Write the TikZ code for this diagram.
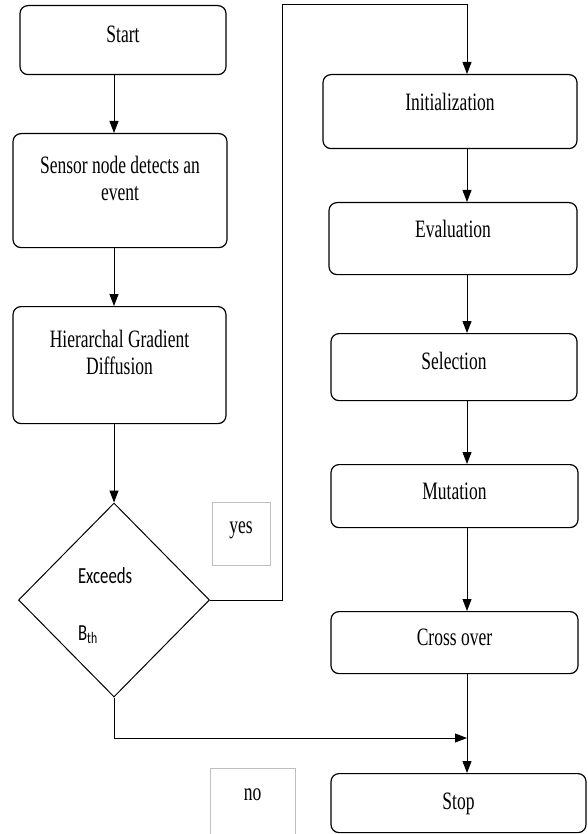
\documentclass[tikz,border=0pt]{standalone}
\usepackage{fontspec}
\setmainfont{Liberation Serif}[FakeStretch=0.7]
\newfontfamily\calfont{Carlito}[FakeStretch=0.73]
\usepackage{tikz}
\usetikzlibrary{arrows.meta, positioning, shapes.geometric}
\definecolor{tagline}{RGB}{190,190,190}

\begin{document}
\begin{tikzpicture}[x=1pt, y=-1pt,
    boxfont/.style={font=\fontsize{25}{27}\selectfont,
      execute at begin node={\spaceskip 4.4pt\relax}},
    proc/.style={rectangle, draw, line width=1.2pt, rounded corners=8pt, anchor=north,
      inner sep=0pt, align=center, boxfont},
    decide/.style={diamond, draw, line width=1pt, inner sep=0pt, minimum width=191pt,
      minimum height=194pt, text width=72pt, align=left, font=\calfont\fontsize{23}{28}\selectfont},
    tag/.style={rectangle, draw=tagline, line width=0.6pt, anchor=north, inner sep=0pt,
      align=center, boxfont},
    arr/.style={draw, line width=1pt, -{Triangle[length=12pt, width=9pt]}}]
  \useasboundingbox (0,0) rectangle (587,834);
  \node[proc, text width=206pt, text height=37pt, text depth=32pt] (start) at (123,5) {Start};
  \node[proc, text width=214pt, text height=40pt, text depth=74pt] (sensor) at (120,133)
    {Sensor node detects an\\event};
  \node[proc, text width=213pt, text height=41pt, text depth=76pt] (hgd) at (119.5,306)
    {Hierarchal Gradient\\Diffusion};
  \node[decide, text height=16pt, text depth=50pt] (exceeds) at (114,600)
    {Exceeds\\[29pt]B\textsubscript{th}};
  \node[proc, text width=254pt, text height=36pt, text depth=38pt] (init) at (450,74) {Initialization};
  \node[proc, text width=248pt, text height=35pt, text depth=37pt] (eval) at (453,202) {Evaluation};
  \node[proc, text width=246pt, text height=36pt, text depth=31pt] (select) at (454,333) {Selection};
  \node[proc, text width=247pt, text height=35pt, text depth=28pt] (mutate) at (454.5,464) {Mutation};
  \node[proc, text width=247pt, text height=34pt, text depth=28pt] (cross) at (454.5,611) {Cross over};
  \node[proc, text width=255pt, text height=36pt, text depth=23pt] (stop) at (458.5,773) {Stop};
  \node[tag, text width=58pt, text height=31pt, text depth=32pt] (yestag) at (241,502) {yes};
  \node[tag, text width=85pt, text height=32pt, text depth=40pt] (notag) at (252.5,768) {no};
  \coordinate (lcol) at (114,0);
  \coordinate (rcol) at (467,5);
  \coordinate (ytop) at (282,5);
  \coordinate (nomeet) at (467,738);
  \draw[arr] (start.south -| lcol) -- (sensor.north -| lcol);
  \draw[arr] (sensor.south -| lcol) -- (hgd.north -| lcol);
  \draw[arr] (hgd.south -| lcol) -- (exceeds.north);
  \draw[arr] (exceeds.east) -| (ytop) -- (rcol) -- (init.north -| rcol);
  \draw[arr] (init.south -| rcol) -- (eval.north -| rcol);
  \draw[arr] (eval.south -| rcol) -- (select.north -| rcol);
  \draw[arr] (select.south -| rcol) -- (mutate.north -| rcol);
  \draw[arr] (mutate.south -| rcol) -- (cross.north -| rcol);
  \draw[arr] (cross.south -| rcol) -- (stop.north -| rcol);
  \draw[arr] (exceeds.south) |- (nomeet);
\end{tikzpicture}
\end{document}
